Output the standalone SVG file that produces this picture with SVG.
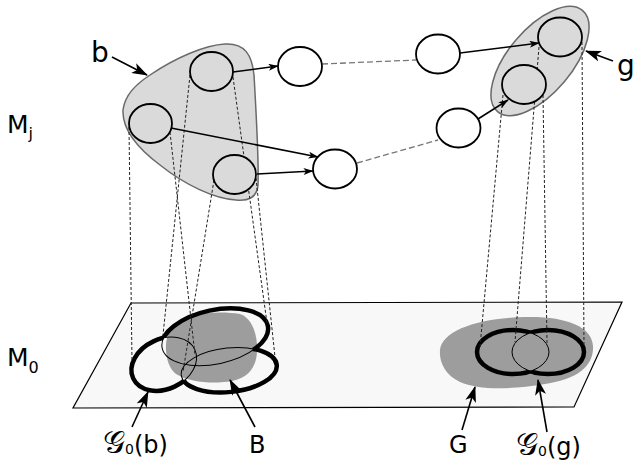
<svg xmlns="http://www.w3.org/2000/svg" width="643" height="470" viewBox="0 0 643 470">
<style>
.lbl{font-family:"DejaVu Sans","Liberation Sans",sans-serif;fill:#000}
.blob{fill:#dadada;stroke:#6a6a6a;stroke-width:1.5}
.cg{fill:#dadada;stroke:#000;stroke-width:1.8}
.cw{fill:#fff;stroke:#000;stroke-width:1.8}
.proj{fill:none;stroke:#222;stroke-width:1;stroke-dasharray:3 2}
.link{fill:none;stroke:#777;stroke-width:1.3;stroke-dasharray:6 3}
.arr{fill:none;stroke:#000;stroke-width:1.5;marker-end:url(#ah)}
.larr{fill:none;stroke:#000;stroke-width:1.6;marker-end:url(#ahl)}
.thick{fill:none;stroke:#000;stroke-width:4.5}
.thin{fill:none;stroke:#000;stroke-width:1}
.shade{fill:#9d9d9d}
</style>
<defs>
<marker id="ah" viewBox="0 0 10 7" refX="9.5" refY="3.5" markerWidth="11" markerHeight="7" markerUnits="userSpaceOnUse" orient="auto"><path d="M0,0 L10,3.5 L0,7 L2.5,3.5 z" fill="#000"/></marker>
<marker id="ahl" viewBox="0 0 16 11" refX="15" refY="5.5" markerWidth="16" markerHeight="11" markerUnits="userSpaceOnUse" orient="auto"><path d="M0,0 L16,5.5 L0,11 L4,5.5 z" fill="#000"/></marker>
<mask id="m1" maskUnits="userSpaceOnUse" x="0" y="0" width="643" height="470"><rect width="643" height="470" fill="#fff"/><ellipse cx="164" cy="364" rx="34" ry="25" transform="rotate(-25 164 364)" fill="#000"/><ellipse cx="229" cy="370" rx="48" ry="22" transform="rotate(-6 229 370)" fill="#000"/></mask>
<mask id="m2" maskUnits="userSpaceOnUse" x="0" y="0" width="643" height="470"><rect width="643" height="470" fill="#fff"/><ellipse cx="215" cy="337" rx="54" ry="27" transform="rotate(-12 215 337)" fill="#000"/><ellipse cx="229" cy="370" rx="48" ry="22" transform="rotate(-6 229 370)" fill="#000"/></mask>
<mask id="m3" maskUnits="userSpaceOnUse" x="0" y="0" width="643" height="470"><rect width="643" height="470" fill="#fff"/><ellipse cx="215" cy="337" rx="54" ry="27" transform="rotate(-12 215 337)" fill="#000"/><ellipse cx="164" cy="364" rx="34" ry="25" transform="rotate(-25 164 364)" fill="#000"/></mask>
<mask id="m4" maskUnits="userSpaceOnUse" x="0" y="0" width="643" height="470"><rect width="643" height="470" fill="#fff"/><ellipse cx="548" cy="352" rx="36" ry="22" fill="#000"/></mask>
<mask id="m5" maskUnits="userSpaceOnUse" x="0" y="0" width="643" height="470"><rect width="643" height="470" fill="#fff"/><ellipse cx="513" cy="352" rx="36" ry="22" fill="#000"/></mask>
</defs>

<g id="plane-M0">
<polygon points="131,303 622,302 574,407 73,408" fill="#f8f8f8" stroke="#000" stroke-width="1.2"/>
</g>

<g id="region-B">
<path class="shade" d="M172,326 C185,314 215,310 240,314 C252,318 258,335 257,352 C256,368 248,378 232,381 C215,384 190,383 176,374 C165,366 162,340 172,326 Z"/>
</g>
<g id="region-G">
<path class="shade" d="M440,350 C442,330 480,318 525,317 C565,316 592,326 593,346 C594,366 578,379 545,384 C510,390 478,390 460,382 C445,375 439,362 440,350 Z"/>
</g>

<g id="G0-b">
<g mask="url(#m1)"><ellipse class="thick" cx="215" cy="337" rx="54" ry="27" transform="rotate(-12 215 337)"/></g>
<g mask="url(#m2)"><ellipse class="thick" cx="164" cy="364" rx="34" ry="25" transform="rotate(-25 164 364)"/></g>
<g mask="url(#m3)"><ellipse class="thick" cx="229" cy="370" rx="48" ry="22" transform="rotate(-6 229 370)"/></g>
<ellipse class="thin" cx="215" cy="337" rx="54" ry="27" transform="rotate(-12 215 337)"/>
<ellipse class="thin" cx="164" cy="364" rx="34" ry="25" transform="rotate(-25 164 364)"/>
<ellipse class="thin" cx="229" cy="370" rx="48" ry="22" transform="rotate(-6 229 370)"/>
</g>

<g id="G0-g">
<g mask="url(#m4)"><ellipse class="thick" cx="513" cy="352" rx="36" ry="22"/></g>
<g mask="url(#m5)"><ellipse class="thick" cx="548" cy="352" rx="36" ry="22"/></g>
<ellipse class="thin" cx="513" cy="352" rx="36" ry="22"/>
<ellipse class="thin" cx="548" cy="352" rx="36" ry="22"/>
</g>

<g id="group-b">
<path class="blob" d="M123,110 C125,95 135,85 150,75 C175,58 205,45 225,44 C245,43 252,55 254,75 C256,110 259,160 258,185 C257,198 248,201 236,200 C215,199 185,185 160,165 C140,150 122,130 123,110 Z"/>
</g>
<g id="group-g">
<ellipse class="blob" cx="540" cy="61" rx="66" ry="32" transform="rotate(-50 540 61)"/>
</g>

<g id="connectors">
<line class="proj" x1="129" y1="127" x2="132" y2="362"/>
<line class="proj" x1="190" y1="75" x2="163" y2="335"/>
<line class="proj" x1="170" y1="132" x2="195" y2="355"/>
<line class="proj" x1="214" y1="180" x2="183" y2="372"/>
<line class="proj" x1="233" y1="77" x2="267" y2="323"/>
<line class="proj" x1="256" y1="178" x2="275" y2="357"/>
<line class="proj" x1="503" y1="95" x2="480" y2="347"/>
<line class="proj" x1="539" y1="47" x2="515" y2="342"/>
<line class="proj" x1="543" y1="95" x2="547" y2="343"/>
<line class="proj" x1="582" y1="42" x2="584" y2="347"/>
<line class="link" x1="322" y1="64" x2="416" y2="60"/>
<line class="link" x1="357" y1="163" x2="438" y2="140"/>
<line class="arr" x1="233" y1="72" x2="278" y2="66"/>
<line class="arr" x1="171" y1="128" x2="318" y2="157"/>
<line class="arr" x1="257" y1="174" x2="313" y2="171"/>
<line class="arr" x1="460" y1="53" x2="539" y2="43"/>
<line class="arr" x1="478" y1="119" x2="508" y2="100"/>
<line class="larr" x1="112" y1="57" x2="147" y2="75"/>
<line class="larr" x1="613" y1="61" x2="586" y2="51"/>
<line class="larr" x1="132" y1="427" x2="148" y2="392"/>
<line class="larr" x1="255" y1="427" x2="230" y2="380"/>
<line class="larr" x1="462" y1="430" x2="475" y2="387"/>
<line class="larr" x1="547" y1="432" x2="538" y2="380"/>
</g>

<g id="node-b1"><ellipse class="cg" cx="211.5" cy="71.5" rx="21.5" ry="19.5"/></g>
<g id="node-b2"><ellipse class="cg" cx="150.5" cy="123.5" rx="21.5" ry="19.5"/></g>
<g id="node-b3"><ellipse class="cg" cx="234.5" cy="174.5" rx="21.5" ry="19.5"/></g>
<g id="node-a"><ellipse class="cw" cx="300" cy="66.5" rx="22" ry="19.5"/></g>
<g id="node-c"><ellipse class="cw" cx="335" cy="169" rx="22" ry="19.5"/></g>
<g id="node-d"><ellipse class="cw" cx="438" cy="54" rx="22" ry="19.5"/></g>
<g id="node-e"><ellipse class="cw" cx="458.5" cy="128" rx="22" ry="19.5"/></g>
<g id="node-g1"><ellipse class="cg" cx="560" cy="37" rx="22" ry="19.5"/></g>
<g id="node-g2"><ellipse class="cg" cx="524" cy="84.5" rx="22" ry="19.5"/></g>

<g id="labels">
<text class="lbl" x="91" y="62" font-size="28">b</text>
<text class="lbl" x="617" y="75" font-size="28">g</text>
<text class="lbl" x="7" y="133" font-size="25">M<tspan font-size="16" dy="6">j</tspan></text>
<text class="lbl" x="7" y="366" font-size="25">M<tspan font-size="16" dy="7">0</tspan></text>
<text class="lbl" x="103" y="453" font-size="24"><tspan font-size="31">𝒢</tspan><tspan font-size="14" dy="1">0</tspan><tspan dy="-1">(b)</tspan></text>
<text class="lbl" x="249" y="453" font-size="24">B</text>
<text class="lbl" x="449" y="453" font-size="24">G</text>
<text class="lbl" x="516" y="455" font-size="24"><tspan font-size="31">𝒢</tspan><tspan font-size="14" dy="1">0</tspan><tspan dy="-1">(g)</tspan></text>
</g>
</svg>
